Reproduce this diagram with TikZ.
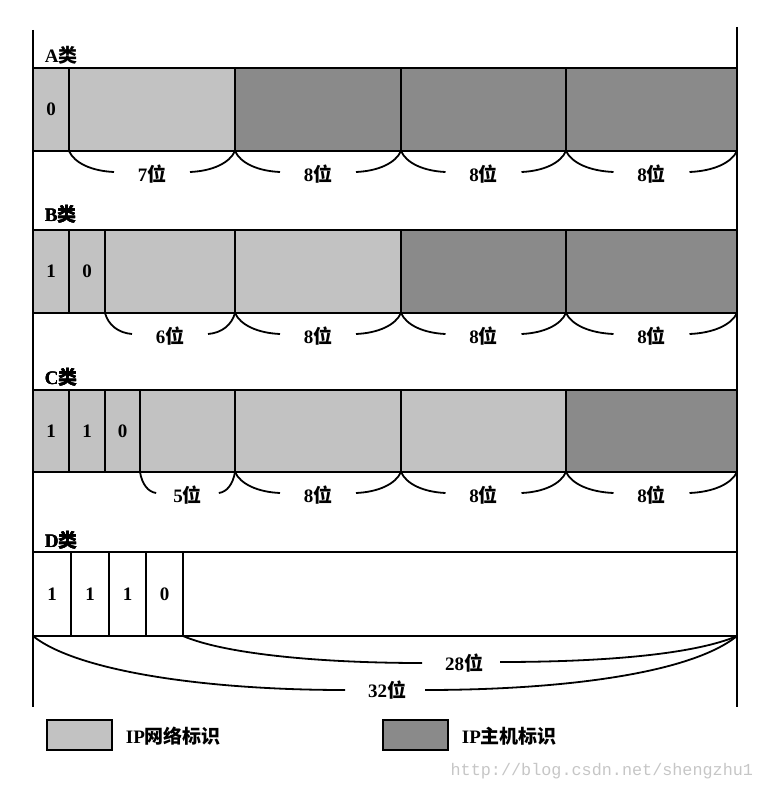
\documentclass[tikz,border=0pt]{standalone}
\usepackage{fontspec}
\setmainfont{Liberation Serif}
\newfontfamily\cjk{Noto Sans CJK SC}
\newfontfamily\wmfont{Liberation Mono}
\definecolor{netgray}{gray}{0.76}
\definecolor{hostgray}{gray}{0.54}

\begin{document}
\begin{tikzpicture}[x=1pt,y=-1pt,font=\fontsize{19}{22}\selectfont\bfseries,line width=1.3pt]
\useasboundingbox (0,0) rectangle (765,792);
\def\field#1#2#3{% top, bottom, cells x0/x1/colour/bit
  \foreach \a/\b/\c/\t in {#3} {
    \draw[line width=1.3pt,fill=\c] (\a,#1) rectangle (\b,#2);
    \node (b\a-#1) at ({(\a+\b)/2},{(#1+#2)/2}) {\t};
  }
  \draw[line width=2.2pt] (33,#1) -- (737,#1) (33,#2) -- (737,#2);}
\def\bitbrace#1#2#3#4{% x0, x1, bottom, bits
  \pgfmathsetmacro\m{(#1+#2)/2}
  \pgfmathsetmacro\g{min(38,0.33*(#2-#1))}
  \pgfmathsetmacro\l{\m-\g-#1}
  \node (w#1-#3) at (\m,#3+23) {#4\cjk 位};
  \draw[line width=1.8pt] (#1,#3) .. controls (#1+0.12*\l,#3+12) and (#1+0.5*\l,#3+20) .. (\m-\g,#3+21);
  \draw[line width=1.8pt] (#2,#3) .. controls (#2-0.12*\l,#3+12) and (#2-0.5*\l,#3+20) .. (\m+\g,#3+21);}
% outer frame
\draw (33,30) -- (33,707);
\draw (737,27) -- (737,707);
% A
\node[anchor=west] (ka) at (41,55) {A\cjk 类};
\field{68}{151}{33/69/netgray/0,69/235/netgray/{},235/401/hostgray/{},401/566/hostgray/{},566/737/hostgray/{}}
\bitbrace{69}{235}{151}{7}
\foreach \a/\b in {235/401,401/566,566/737} \bitbrace{\a}{\b}{151}{8}
% B
\node[anchor=west] (kb) at (41,214) {B\cjk 类};
\field{230}{313}{33/69/netgray/1,69/105/netgray/0,105/235/netgray/{},235/401/netgray/{},401/566/hostgray/{},566/737/hostgray/{}}
\bitbrace{105}{235}{313}{6}
\foreach \a/\b in {235/401,401/566,566/737} \bitbrace{\a}{\b}{313}{8}
% C
\node[anchor=west] (kc) at (41,377) {C\cjk 类};
\field{390}{472}{33/69/netgray/1,69/105/netgray/1,105/140/netgray/0,140/235/netgray/{},235/401/netgray/{},401/566/netgray/{},566/737/hostgray/{}}
\bitbrace{140}{235}{472}{5}
\foreach \a/\b in {235/401,401/566,566/737} \bitbrace{\a}{\b}{472}{8}
% D
\node[anchor=west] (kd) at (41,540) {D\cjk 类};
\field{552}{636}{33/71/white/1,71/109/white/1,109/146/white/1,146/183/white/0,183/737/white/{}}
\node (w28) at (464,663) {28\cjk 位};
\node (w32) at (387,690) {32\cjk 位};
\draw[line width=1.8pt] (183,636) .. controls (225,654) and (320,663) .. (422,663);
\draw[line width=1.8pt] (500,662) .. controls (620,662) and (700,652) .. (737,636);
\draw[line width=1.8pt] (33,636) .. controls (75,670) and (200,690) .. (345,690);
\draw[line width=1.8pt] (425,690) .. controls (560,690) and (690,674) .. (737,636);
% legend
\draw[line width=2pt,fill=netgray] (47,720) rectangle (112,750);
\node[anchor=west] (lnet) at (122,736) {IP\cjk 网络标识};
\draw[line width=2pt,fill=hostgray] (383,720) rectangle (448,750);
\node[anchor=west] (lhost) at (458,736) {IP\cjk 主机标识};
\node[anchor=west,font=\wmfont\fontsize{16.8}{18}\selectfont,text=gray!45,inner sep=0pt] (wm) at (450,771) {http://blog.csdn.net/shengzhu1};
\end{tikzpicture}
\end{document}
